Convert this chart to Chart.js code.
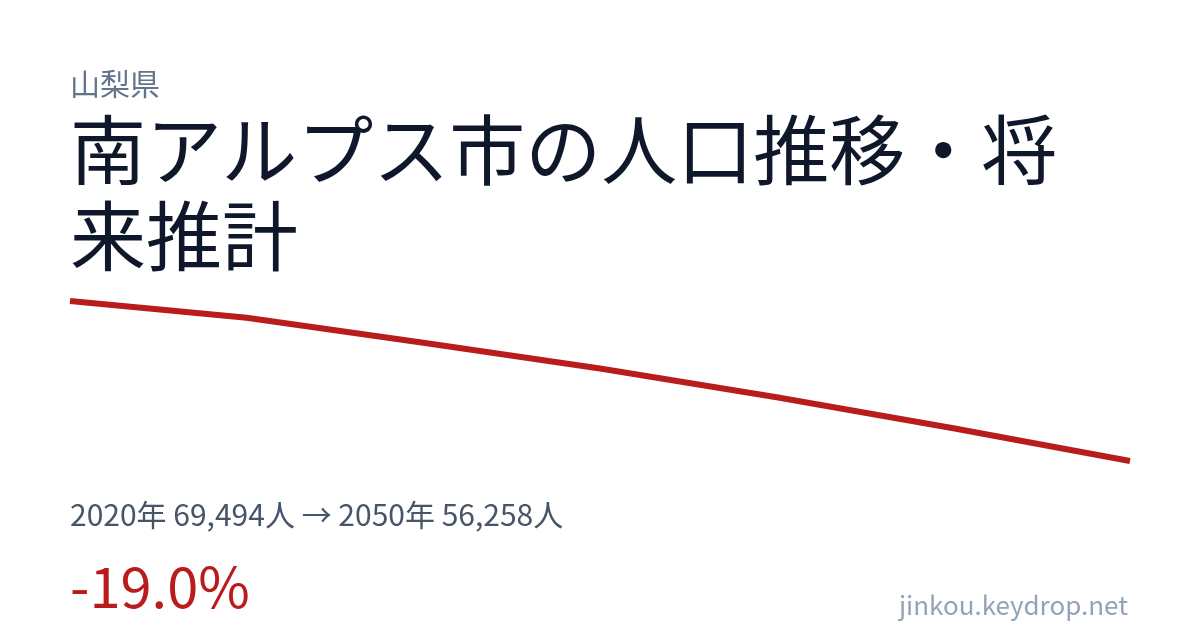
<!DOCTYPE html>
<html><head><meta charset="utf-8">
<script src="https://cdn.jsdelivr.net/npm/chart.js@4"></script>
<style>
html,body{margin:0;padding:0;background:#fff;}
body{width:1200px;height:630px;position:relative;overflow:hidden;font-family:"Noto Sans CJK JP","Noto Sans",sans-serif;}
#c{position:absolute;left:0;top:0;}
.t{position:absolute;white-space:nowrap;line-height:1;}
#pref{left:70px;top:67px;font-size:30px;color:#64748b;}
#title{position:absolute;left:70px;top:103px;width:1060px;font-size:76px;line-height:86px;color:#0f172a;}
#stats{left:70px;top:498px;font-size:30px;color:#475569;}
#pct{left:70px;top:556px;font-size:56px;color:#b91c1c;}
#site{right:72px;top:591px;font-size:26px;color:#94a3b8;}
</style></head>
<body>
<canvas id="c" width="1200" height="630"></canvas>
<div class="t" id="pref">山梨県</div>
<div id="title">南アルプス市の人口推移・将来推計</div>
<div class="t" id="stats">2020年 69,494人 → 2050年 56,258人</div>
<div class="t" id="pct">-19.0%</div>
<div class="t" id="site">jinkou.keydrop.net</div>
<script>
const years = ["2020","2025","2030","2035","2040","2045","2050"];
const population = [69494, 68110, 66046, 63916, 61538, 58969, 56258];

new Chart(document.getElementById('c'), {
  type: 'line',
  data: {
    labels: years,
    datasets: [{
      data: population,
      borderColor: '#b91c1c',
      borderWidth: 6,
      pointRadius: 0,
      tension: 0,
      fill: false,
      clip: false
    }]
  },
  options: {
    responsive: false,
    animation: false,
    layout: { padding: { left: 70, right: 70, top: 301, bottom: 169 } },
    plugins: { legend: { display: false }, tooltip: { enabled: false } },
    scales: {
      x: { display: false, offset: false },
      y: { display: false, min: Math.min(...population), max: Math.max(...population) }
    }
  }
});
</script>
</body></html>
